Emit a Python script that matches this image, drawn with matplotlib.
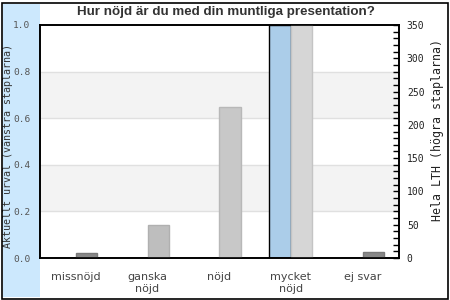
import matplotlib
matplotlib.use("Agg")
import matplotlib.pyplot as plt
from matplotlib.patches import Rectangle
from matplotlib.ticker import MultipleLocator
import numpy as np

categories = ["missnöjd", "ganska\nnöjd", "nöjd", "mycket\nnöjd", "ej svar"]
urval = [0.0, 0.0, 0.0, 1.0, 0.0]          # Aktuellt urval (left axis)
hela_lth = [8, 50, 227, 350, 9]            # Hela LTH (right axis)
left_ticks = [0.0, 0.2, 0.4, 0.6, 0.8, 1.0]
right_ticks = [0, 50, 100, 150, 200, 250, 300, 350]

gray_fill = ["#888888", "#bebebe", "#c8c8c8", "#d6d6d6", "#888888"]
gray_edge = ["#7a7a7a", "#b0b0b0", "#b8b8b8", "#c4c4c4", "#7a7a7a"]

W, H = 450, 300
fig = plt.figure(figsize=(W / 100, H / 100), dpi=100)

# outer frame and light blue band on the left
fig.patches.append(Rectangle((3 / W, 3 / H), 37 / W, 293 / H, transform=fig.transFigure,
                             facecolor="#cce8fd", edgecolor="none", zorder=-1))
fig.patches.append(Rectangle((1.5 / W, 1.5 / H), 446 / W, 296 / H, transform=fig.transFigure,
                             facecolor="none", edgecolor="black", linewidth=1.2, zorder=5))

left, right, top, bottom = 40, 398.5, 25, 258
ax = fig.add_axes([left / W, 1 - bottom / H, (right - left) / W, (bottom - top) / H])
ax2 = ax.twinx()

x = np.arange(len(categories))
bw = 0.3

ax.set_xlim(-0.5, len(categories) - 0.5)
ax.set_ylim(0, 1.0)
ax2.set_ylim(0, 350)

# alternating background bands and grid lines
for lo, hi in [(0.2, 0.4), (0.6, 0.8)]:
    ax.axhspan(lo, hi, facecolor="#f3f3f3", edgecolor="none", zorder=0)
for y in left_ticks[1:-1]:
    ax.axhline(y, color="#e0e0e0", linewidth=1, zorder=0.5)

ax.bar(x - bw / 2, urval, width=bw, color="#abcde9", edgecolor="black", linewidth=1, zorder=2)
ax2.bar(x + bw / 2, hela_lth, width=bw, color=gray_fill, edgecolor=gray_edge, linewidth=1, zorder=2)

ax.set_yticks(left_ticks)
ax.set_yticklabels([f"{v:.1f}" for v in left_ticks], family="DejaVu Sans Mono",
                   fontsize=6.8, color="#555555")
ax.tick_params(axis="y", length=0, pad=7)
ax.set_xticks(x)
ax.set_xticklabels(categories, fontsize=8, color="#444444", linespacing=1.25)
ax.tick_params(axis="x", length=0, pad=10)

ax2.set_yticks(right_ticks)
ax2.set_yticklabels([str(v) for v in right_ticks], family="DejaVu Sans Mono",
                    fontsize=7, color="#222222")
ax2.yaxis.set_minor_locator(MultipleLocator(10))
ax2.tick_params(axis="y", which="both", direction="in", length=4, width=1, pad=6)

for a in (ax, ax2):
    for s in a.spines.values():
        s.set_color("black")
        s.set_linewidth(1.2)

fig.text(8 / W, 1 - 146 / H, "Aktuellt urval (vänstra staplarna)", rotation=90,
         ha="center", va="center", family="DejaVu Sans Mono", fontsize=7.2, color="#333333")
fig.text(437 / W, 1 - 130 / H, "Hela LTH (högra staplarna)", rotation=90,
         ha="center", va="center", family="DejaVu Sans Mono", fontsize=8.4, color="#222222")
fig.text(226 / W, 1 - 12.5 / H, "Hur nöjd är du med din muntliga presentation?",
         ha="center", va="center", family="Liberation Sans", fontweight="bold",
         fontsize=9.6, color="#333333")

fig.savefig("out.png", dpi=100)
